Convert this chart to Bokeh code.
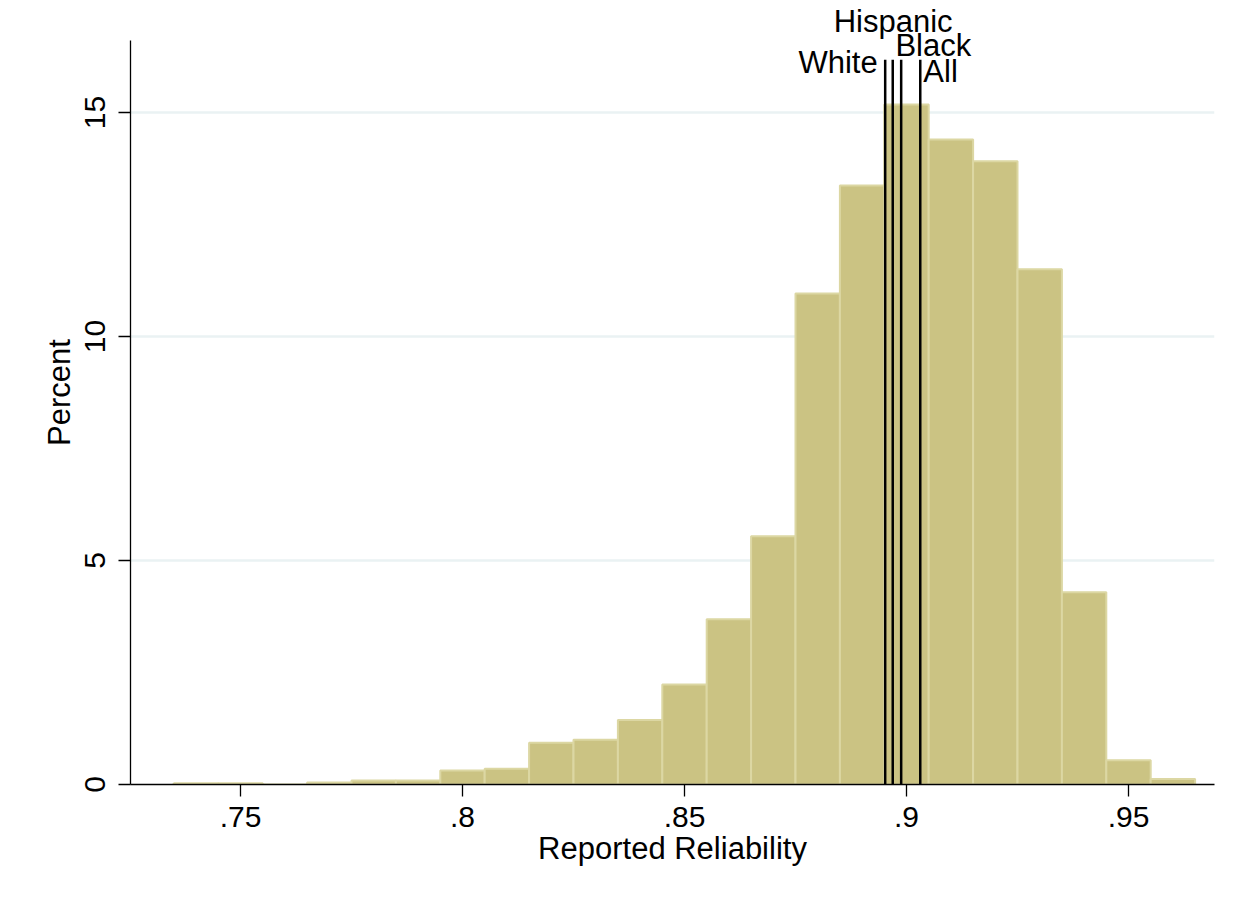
from bokeh.plotting import figure
from bokeh.models import Range1d, FixedTicker, ColumnDataSource, LabelSet
from bokeh.core.properties import value
from bokeh.embed import file_html
from bokeh.resources import INLINE

# ---- data ----
bin_left = [0.735, 0.745, 0.755, 0.765, 0.775, 0.785, 0.795, 0.805, 0.815, 0.825,
            0.835, 0.845, 0.855, 0.865, 0.875, 0.885, 0.895, 0.905, 0.915, 0.925,
            0.935, 0.945, 0.955]
bin_right = [0.745, 0.755, 0.765, 0.775, 0.785, 0.795, 0.805, 0.815, 0.825, 0.835,
             0.845, 0.855, 0.865, 0.875, 0.885, 0.895, 0.905, 0.915, 0.925, 0.935,
             0.945, 0.955, 0.965]
percent = [0.03, 0.03, 0.0, 0.045, 0.09, 0.09, 0.31, 0.35, 0.93, 1.0,
           1.44, 2.23, 3.69, 5.54, 10.96, 13.37, 15.18, 14.40, 13.91, 11.50,
           4.29, 0.54, 0.12]

group_names = ["White", "Hispanic", "Black", "All"]
group_means = [0.8952, 0.8969, 0.8988, 0.9031]
label_x = [0.8935, 0.8836, 0.8975, 0.9038]
label_y = [15.89, 16.79, 16.27, 15.67]
label_align = ["right", "left", "left", "left"]
line_top = 16.18

x_ticks = [0.75, 0.8, 0.85, 0.9, 0.95]
x_tick_labels = [".75", ".8", ".85", ".9", ".95"]
y_ticks = [0, 5, 10, 15]
y_tick_labels = ["0", "5", "10", "15"]
y_axis_top = 16.607

FONT = "Liberation Sans"

p = figure(width=1244, height=903, output_backend="svg", toolbar_location=None,
           x_range=Range1d(0.725225, 0.969369), y_range=Range1d(0, 17.5),
           min_border_left=130, min_border_right=30, min_border_top=0,
           min_border_bottom=119)
p.outline_line_color = None
p.background_fill_color = "white"
p.border_fill_color = "white"

bars = ColumnDataSource(dict(left=bin_left, right=bin_right, top=percent,
                             bottom=[0] * len(percent)))
p.quad(left="left", right="right", top="top", bottom="bottom", source=bars,
       fill_color="#CBC383", line_color="#DCD7A3", line_width=2)

lines = ColumnDataSource(dict(x0=group_means, x1=group_means,
                              y0=[0] * len(group_means), y1=[line_top] * len(group_means)))
p.segment(x0="x0", y0="y0", x1="x1", y1="y1", source=lines,
          line_color="black", line_width=2.5)

labels = ColumnDataSource(dict(x=label_x, y=label_y, text=group_names, align=label_align))
p.add_layout(LabelSet(x="x", y="y", text="text", source=labels,
                      text_align="align", text_baseline="alphabetic",
                      text_font=value(FONT), text_font_size="31px", text_color="black"))

# grid
p.xgrid.visible = False
p.ygrid.ticker = FixedTicker(ticks=[5, 10, 15])
p.ygrid.grid_line_color = "#EAF2F3"
p.ygrid.grid_line_width = 2.5

# axes
for ax in (p.xaxis[0], p.yaxis[0]):
    ax.axis_line_color = "black"
    ax.axis_line_width = 1.3
    ax.major_tick_line_color = "black"
    ax.major_tick_line_width = 1.3
    ax.major_tick_out = 12
    ax.major_tick_in = 0
    ax.minor_tick_line_color = None
    ax.major_label_text_font = FONT
    ax.major_label_text_font_size = "30px"
    ax.major_label_text_color = "black"
    ax.axis_label_text_font = FONT
    ax.axis_label_text_font_size = "31px"
    ax.axis_label_text_font_style = "normal"
    ax.axis_label_text_color = "black"

p.xaxis.ticker = FixedTicker(ticks=x_ticks)
p.xaxis.major_label_overrides = dict(zip(x_ticks, x_tick_labels))
p.xaxis.axis_label = "Reported Reliability"
p.xaxis.major_label_standoff = 10
p.xaxis.axis_label_standoff = 1

p.yaxis.ticker = FixedTicker(ticks=y_ticks)
p.yaxis.major_label_overrides = dict(zip(y_ticks, y_tick_labels))
p.yaxis.major_label_orientation = "vertical"
p.yaxis.axis_label = "Percent"
p.yaxis.major_label_standoff = 14
p.yaxis.axis_label_standoff = 5
p.yaxis.bounds = (0, y_axis_top)

open("out.html", "w").write(file_html(p, INLINE))
